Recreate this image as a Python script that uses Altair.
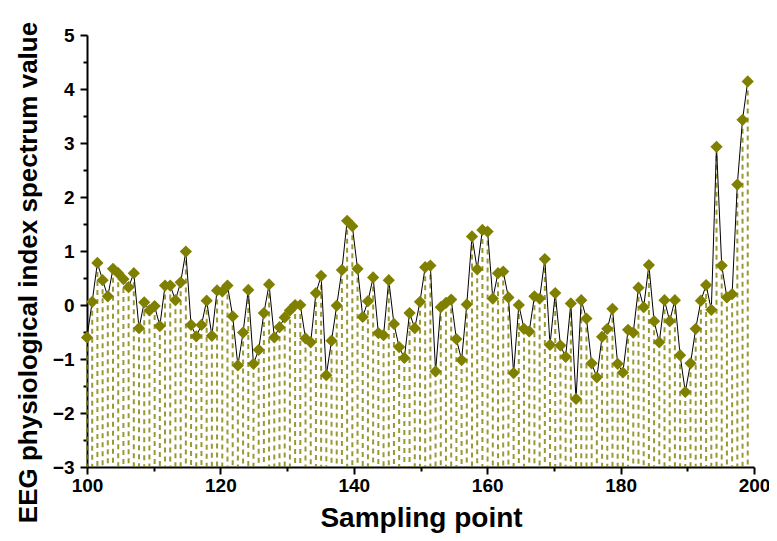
import altair as alt
import pandas as pd

# Sampling positions: evenly spaced from 100 (step)
sample_start = 100.0
sample_step = 0.78

values = [
    -0.60, 0.06, 0.78, 0.46, 0.16, 0.67, 0.59, 0.48, 0.33, 0.59,
    -0.43, 0.05, -0.10, -0.02, -0.39, 0.36, 0.36, 0.09, 0.42, 0.99,
    -0.37, -0.58, -0.37, 0.08, -0.57, 0.27, 0.25, 0.36, -0.21, -1.12,
    -0.51, 0.28, -1.09, -0.83, -0.15, 0.38, -0.60, -0.41, -0.23, -0.10,
    0.00, 0.00, -0.62, -0.69, 0.22, 0.54, -1.30, -0.66, -0.01, 0.65,
    1.56, 1.46, 0.67, -0.22, 0.07, 0.51, -0.52, -0.56, 0.46, -0.35,
    -0.78, -0.98, -0.15, -0.43, 0.06, 0.70, 0.73, -1.23, -0.04, 0.04,
    0.10, -0.63, -1.02, 0.01, 1.27, 0.66, 1.39, 1.36, 0.12, 0.59,
    0.62, 0.14, -1.26, 0.00, -0.44, -0.49, 0.16, 0.12, 0.85, -0.74,
    0.22, -0.75, -0.96, 0.03, -1.74, 0.09, -0.25, -1.08, -1.34, -0.59,
    -0.44, -0.07, -1.09, -1.25, -0.46, -0.51, 0.32, -0.04, 0.74, -0.30,
    -0.69, 0.09, -0.30, 0.09, -0.93, -1.61, -1.08, -0.44, 0.08, 0.37,
    -0.09, 2.93, 0.73, 0.14, 0.20, 2.23, 3.43, 4.14,
]

x_ticks = [100, 110, 120, 130, 140, 150, 160, 170, 180, 190, 200]
y_ticks = [-3, -2.5, -2, -1.5, -1, -0.5, 0, 0.5, 1, 1.5, 2, 2.5, 3, 3.5, 4, 4.5, 5]
y_floor = -3

sample = [round(sample_start + i * sample_step, 3) for i in range(len(values))]
df = pd.DataFrame({"sample": sample, "value": values})

OLIVE = "#808000"
FONT = "Liberation Sans"

axis_common = dict(
    grid=False,
    domainColor="black",
    domainWidth=2,
    tickColor="black",
    tickWidth=2,
    labelFont=FONT,
    labelFontWeight="bold",
    labelFontSize=19,
    labelColor="black",
    labelFlush=False,
    labelOverlap=False,
    titleFont=FONT,
    titleFontWeight="bold",
    titleColor="black",
)

x_enc = alt.X(
    "sample:Q",
    scale=alt.Scale(domain=[100, 200], nice=False, zero=False),
    axis=alt.Axis(
        values=x_ticks,
        format="d",
        labelExpr="datum.value % 20 === 0 ? datum.label : ''",
        tickSize={"condition": {"test": "datum.value % 20 === 0", "value": 7}, "value": 4},
        labelPadding=2,
        titleFontSize=28,
        titleBaseline="alphabetic",
        titleY=59,
        titleX=334,
        **axis_common,
    ),
    title="Sampling point",
)

y_enc = alt.Y(
    "value:Q",
    scale=alt.Scale(domain=[-3, 5], nice=False, zero=False),
    axis=alt.Axis(
        values=y_ticks,
        format="~g",
        labelExpr="datum.value % 1 === 0 ? datum.label : ''",
        tickSize={"condition": {"test": "datum.value % 1 === 0", "value": 7}, "value": 4},
        labelPadding=6,
        titleFontSize=26,
        titleBaseline="middle",
        titleX=-59,
        titleY=237,
        **axis_common,
    ),
    title="EEG physiological index spectrum value",
)

base = alt.Chart(df)

drops = base.mark_rule(color=OLIVE, strokeWidth=2, strokeDash=[5, 4], opacity=0.8).encode(
    x=x_enc, y=y_enc, y2=alt.datum(y_floor)
)
line = base.mark_line(color="black", strokeWidth=1).encode(x=x_enc, y=y_enc)
pts = base.mark_point(shape="diamond", filled=True, color=OLIVE, size=150, opacity=1).encode(
    x=x_enc, y=y_enc
)

chart = (
    alt.layer(drops, line, pts)
    .properties(
        width=667,
        height=432,
        autosize=alt.AutoSizeParams(type="none"),
        padding={"left": 79, "top": 27, "right": 15, "bottom": 66},
    )
    .configure_view(stroke=None)
)

chart.save("out.html", embed_options={"renderer": "svg", "actions": False})
